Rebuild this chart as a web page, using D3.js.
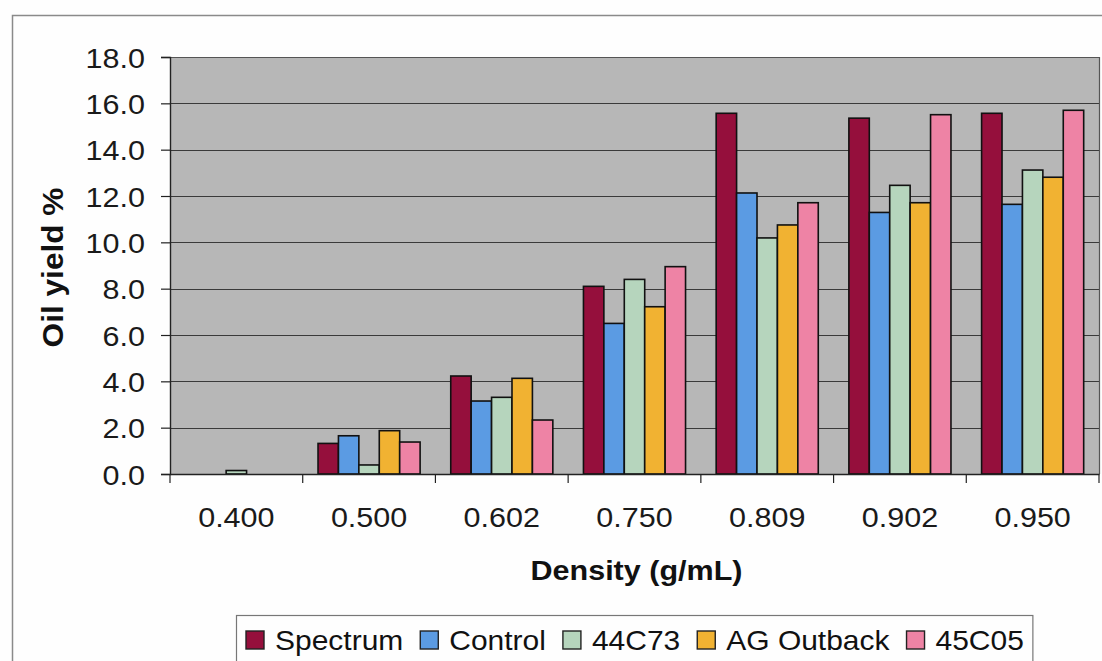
<!DOCTYPE html>
<html>
<head>
<meta charset="utf-8">
<script src="https://cdn.jsdelivr.net/npm/d3@7/dist/d3.min.js"></script>
<style>
  html, body { margin: 0; padding: 0; background: #fefefe; }
  svg { display: block; font-family: "Liberation Sans", Arial, sans-serif; }
</style>
</head>
<body>
<svg id="chart" width="1102" height="661"></svg>
<script>
// Oil yield by density for five varieties
const densities = ["0.400", "0.500", "0.602", "0.750", "0.809", "0.902", "0.950"];
const seriesNames = ["Spectrum", "Control", "44C73", "AG Outback", "45C05"];
const spectrum  = [0.00, 1.32, 4.23, 8.10, 15.57, 15.36, 15.57];
const control   = [0.00, 1.65, 3.15, 6.50, 12.13, 11.29, 11.64];
const c44c73    = [0.15, 0.39, 3.31, 8.40, 10.19, 12.46, 13.12];
const agOutback = [0.00, 1.87, 4.13, 7.22, 10.75, 11.71, 12.81];
const c45c05    = [0.00, 1.38, 2.33, 8.95, 11.71, 15.51, 15.70];
const yTicks = [0, 2, 4, 6, 8, 10, 12, 14, 16, 18];
const colors = ["#950f3c", "#5b9be3", "#b6d5bd", "#f1b232", "#ee83a5"];

const seriesValues = [spectrum, control, c44c73, agOutback, c45c05];
const rows = densities.map((d, i) => ({
  density: d,
  values: seriesNames.map((s, k) => ({ series: s, value: seriesValues[k][i] }))
}));

// slightly wide lettering
const WIDE = 1.09;
function widen(sel) {
  sel.each(function () {
    const len = this.getComputedTextLength() * WIDE;
    this.__wideLen = len;
    d3.select(this).attr("textLength", len).attr("lengthAdjust", "spacingAndGlyphs");
  });
}

const svg = d3.select("#chart");
const plot = { left: 170, right: 1099, top: 57, bottom: 474 };

// outer chart frame
svg.append("path")
  .attr("d", "M12.5,661 V15.5 H1102")
  .attr("fill", "none").attr("stroke", "#8a8a8a").attr("stroke-width", 1.5);

const x0 = d3.scaleBand().domain(densities).range([plot.left, plot.right]).paddingInner(0).paddingOuter(0);
const bw = x0.bandwidth();
const edge = bw * 0.75 / 6.5;
const x1 = d3.scaleBand().domain(seriesNames).range([edge, bw - edge]).padding(0);
const y = d3.scaleLinear().domain([0, 18]).range([plot.bottom, plot.top]);
const color = d3.scaleOrdinal().domain(seriesNames).range(colors);

// plot area background
svg.append("rect")
  .attr("x", plot.left).attr("y", plot.top)
  .attr("width", plot.right - plot.left).attr("height", plot.bottom - plot.top)
  .attr("fill", "#b7b7b7");

// horizontal gridlines
svg.append("g")
  .selectAll("line").data(yTicks.filter(t => t > 0)).join("line")
  .attr("x1", plot.left).attr("x2", plot.right)
  .attr("y1", d => Math.round(y(d)) + 0.5).attr("y2", d => Math.round(y(d)) + 0.5)
  .attr("stroke", "#3a3a3a").attr("stroke-width", 1.2);

// plot border (top and right)
svg.append("path")
  .attr("d", `M${plot.left},${plot.top + 0.5} H${plot.right + 0.5} V${plot.bottom}`)
  .attr("fill", "none").attr("stroke", "#555").attr("stroke-width", 1.2);

// bars
svg.append("g")
  .selectAll("g").data(rows).join("g")
  .attr("transform", d => `translate(${x0(d.density)},0)`)
  .selectAll("rect").data(d => d.values.filter(v => v.value > 0)).join("rect")
  .attr("x", d => x1(d.series))
  .attr("y", d => y(d.value))
  .attr("width", x1.bandwidth())
  .attr("height", d => y(0) - y(d.value))
  .attr("fill", d => color(d.series))
  .attr("stroke", "#111").attr("stroke-width", 1.6);

// y axis
const yAxis = svg.append("g")
  .attr("transform", `translate(${plot.left},0)`)
  .call(d3.axisLeft(y).tickValues(yTicks).tickFormat(d3.format(".1f")).tickSize(9).tickPadding(16));
yAxis.select(".domain").attr("stroke", "#222").attr("stroke-width", 1.4);
yAxis.selectAll(".tick line").attr("stroke", "#222").attr("stroke-width", 1.2);
yAxis.selectAll(".tick text")
  .attr("font-size", 28).attr("fill", "#1a1a1a")
  .attr("font-family", "'Liberation Sans', Arial, sans-serif")
  .attr("dy", "0.36em")
  .call(widen);

// x axis with ticks on category boundaries
const xAxis = svg.append("g")
  .attr("transform", `translate(0,${plot.bottom})`)
  .call(d3.axisBottom(x0).tickSize(0).tickPadding(33));
xAxis.select(".domain").attr("stroke", "#222").attr("stroke-width", 1.4);
xAxis.selectAll(".tick text")
  .attr("font-size", 28).attr("fill", "#1a1a1a")
  .attr("font-family", "'Liberation Sans', Arial, sans-serif")
  .call(widen);
xAxis.selectAll("line.boundary")
  .data(densities.map(d => x0(d)).concat([plot.right]))
  .join("line").attr("class", "boundary")
  .attr("x1", d => d).attr("x2", d => d)
  .attr("y1", 0).attr("y2", 9)
  .attr("stroke", "#222").attr("stroke-width", 1.2);

// axis titles
svg.append("text")
  .attr("x", (plot.left + plot.right) / 2 + 2).attr("y", 580)
  .attr("text-anchor", "middle").attr("font-size", 28).attr("font-weight", "bold")
  .attr("fill", "#111").text("Density (g/mL)")
  .call(widen);

svg.append("text")
  .attr("transform", `translate(63,${(plot.top + plot.bottom) / 2 + 2}) rotate(-90)`)
  .attr("text-anchor", "middle").attr("font-size", 29).attr("font-weight", "bold")
  .attr("fill", "#111").text("Oil yield %")
  .call(widen);

// legend
const legend = svg.append("g");
const legendBox = legend.append("rect")
  .attr("fill", "#fefefe").attr("stroke", "#777").attr("stroke-width", 1.2);
let lx = 246;
const markerSize = 18, markerY = 631;
seriesNames.forEach((s, i) => {
  legend.append("rect")
    .attr("x", lx).attr("y", markerY)
    .attr("width", markerSize).attr("height", markerSize)
    .attr("fill", color(s)).attr("stroke", "#222").attr("stroke-width", 1.4);
  const t = legend.append("text")
    .attr("x", lx + markerSize + 11).attr("y", markerY + markerSize + 1)
    .attr("font-size", 27.5).attr("fill", "#111").text(s)
    .call(widen);
  lx += markerSize + 11 + t.node().__wideLen + 17;
});
legendBox.attr("x", 236.5).attr("y", 615.5)
  .attr("width", lx - 236.5 - 8).attr("height", 60);
</script>
</body>
</html>
